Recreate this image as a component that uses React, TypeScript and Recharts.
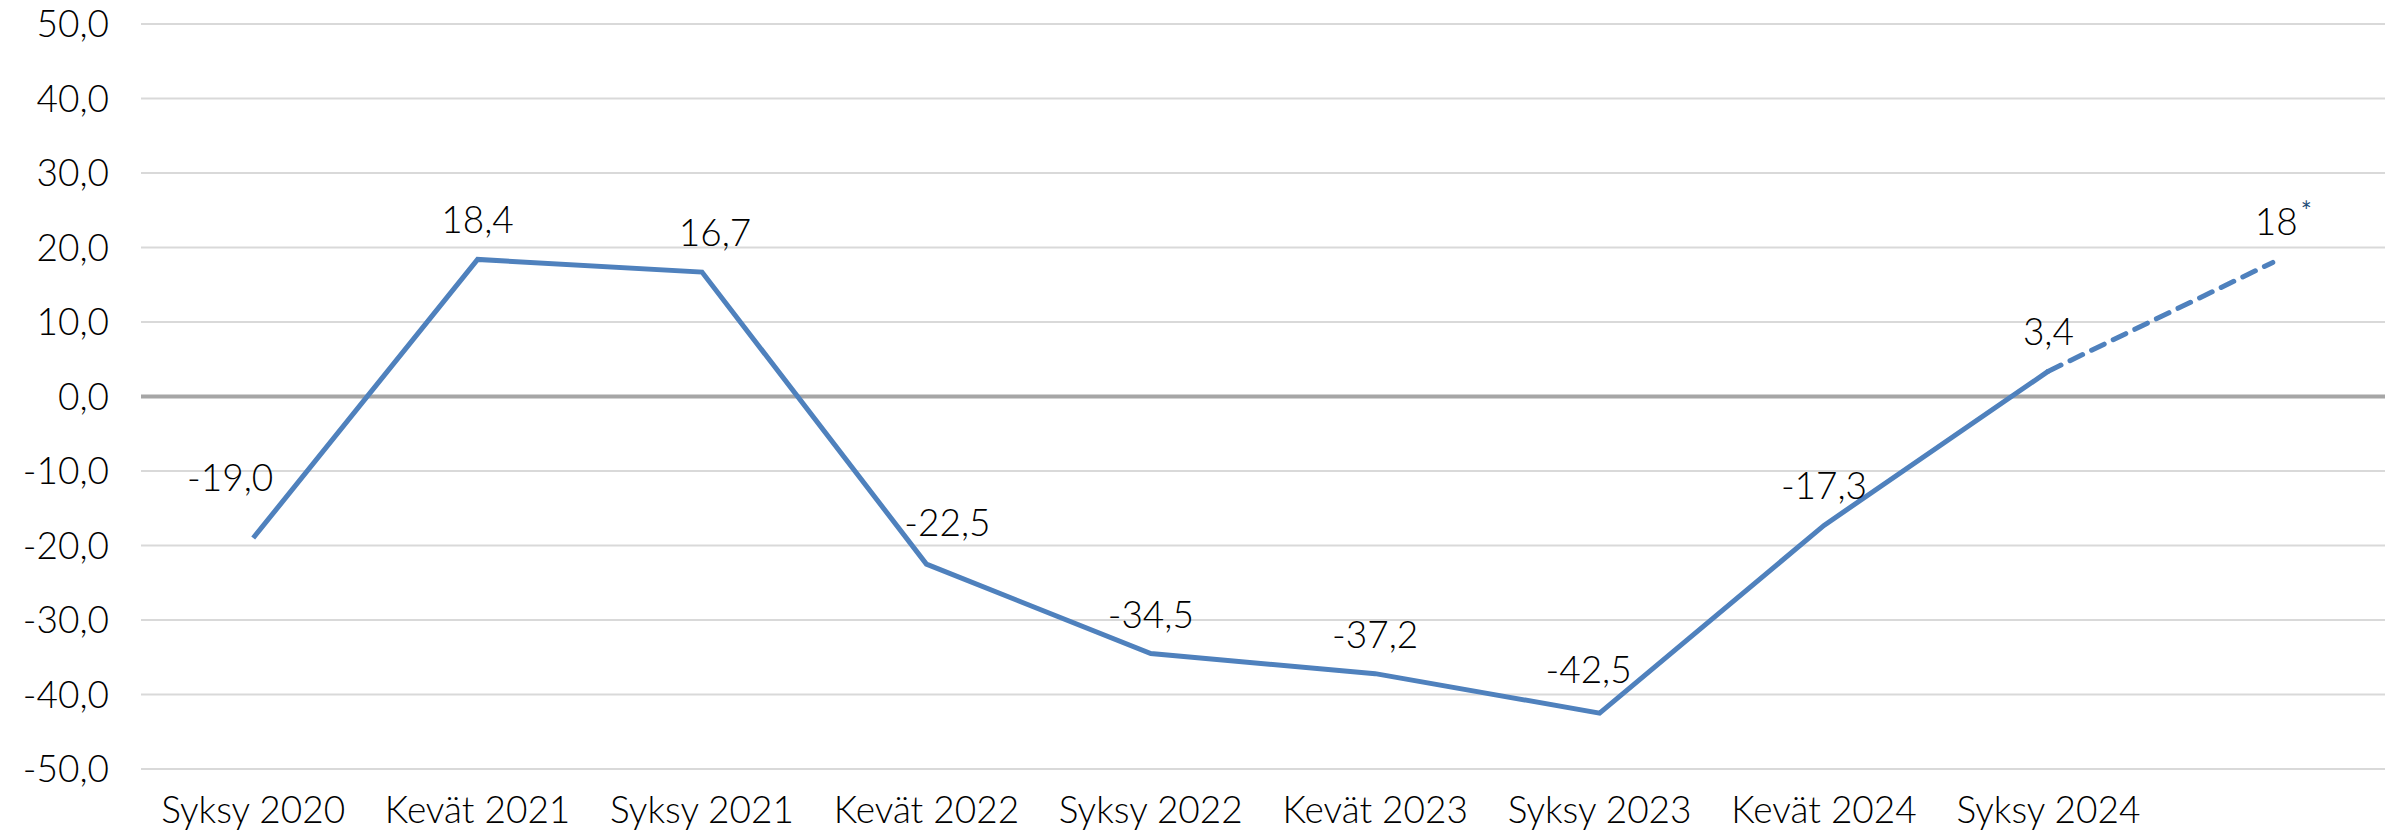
import React from "react";
import {
  LineChart,
  Line,
  XAxis,
  YAxis,
  CartesianGrid,
  ReferenceLine,
  LabelList,
} from "recharts";

const categories = [
  "Syksy 2020",
  "Kevät 2021",
  "Syksy 2021",
  "Kevät 2022",
  "Syksy 2022",
  "Kevät 2023",
  "Syksy 2023",
  "Kevät 2024",
  "Syksy 2024",
  "",
];

// toteutunut
const actual = [-19.0, 18.4, 16.7, -22.5, -34.5, -37.2, -42.5, -17.3, 3.4, null];
// ennuste
const forecast = [null, null, null, null, null, null, null, null, 3.4, 18];

const yTicks = [-50, -40, -30, -20, -10, 0, 10, 20, 30, 40, 50];

const data = categories.map((c, i) => ({
  name: c,
  actual: actual[i],
  forecast: forecast[i],
}));

const FONT = "Lato, 'Open Sans', sans-serif";
const BLUE = "#4F81BD";

const fmt = (v: number) => v.toFixed(1).replace(".", ",");

// label nudges (dx, dy above point)
const nudge: Record<number, [number, number]> = {
  0: [-23, -60],
  2: [13, -39],
  3: [21, -41],
  6: [-11, -43],
};

const ActualLabel = (props: any) => {
  const { x, y, value, index } = props;
  if (value == null) return null;
  const [dx, dy] = nudge[index] || [0, -39];
  return (
    <text
      x={x + dx}
      y={y + dy + 13}
      textAnchor="middle"
      fontSize={37}
      fontWeight={300}
      fontFamily={FONT}
      fill="#000"
    >
      {fmt(value)}
    </text>
  );
};

const ForecastLabel = (props: any) => {
  const { x, y, value, index } = props;
  if (value == null || index !== categories.length - 1) return null;
  return (
    <text
      x={x - 18}
      y={y - 27}
      fontSize={37}
      fontWeight={300}
      fontFamily={FONT}
      fill="#000"
    >
      {String(value)}
      <tspan fontSize={26} fontWeight={400} dy={-14} dx={3} fill="#1F4E79">
        *
      </tspan>
    </text>
  );
};

export default function App() {
  return (
    <div style={{ width: 2389, height: 837, margin: "-8px 0 0 0", fontFamily: FONT }}>
      <LineChart
        width={2389}
        height={837}
        data={data}
        margin={{ top: 24, right: 12, bottom: 0, left: 0 }}
      >
        <CartesianGrid vertical={false} stroke="#D9D9D9" strokeWidth={2} />
        <XAxis
          dataKey="name"
          scale="band"
          axisLine={false}
          tickLine={false}
          tickSize={0}
          tickMargin={28}
          height={68}
          interval={0}
          tick={{ fontSize: 37, fill: "#000", fontFamily: FONT, fontWeight: 300 }}
        />
        <YAxis
          domain={[-50, 50]}
          ticks={yTicks}
          width={133}
          axisLine={false}
          tickLine={false}
          tickSize={0}
          tickMargin={32}
          tickFormatter={fmt}
          tick={{ fontSize: 37, fill: "#000", fontFamily: FONT, fontWeight: 300 }}
        />
        <ReferenceLine y={0} stroke="#A6A6A6" strokeWidth={4} />
        <Line
          dataKey="actual"
          stroke={BLUE}
          strokeWidth={5}
          dot={false}
          activeDot={false}
          isAnimationActive={false}
          connectNulls={false}
        >
          <LabelList dataKey="actual" content={ActualLabel} />
        </Line>
        <Line
          dataKey="forecast"
          stroke={BLUE}
          strokeWidth={5}
          strokeDasharray="14 10"
          strokeLinecap="round"
          dot={false}
          activeDot={false}
          isAnimationActive={false}
        >
          <LabelList dataKey="forecast" content={ForecastLabel} />
        </Line>
      </LineChart>
    </div>
  );
}
